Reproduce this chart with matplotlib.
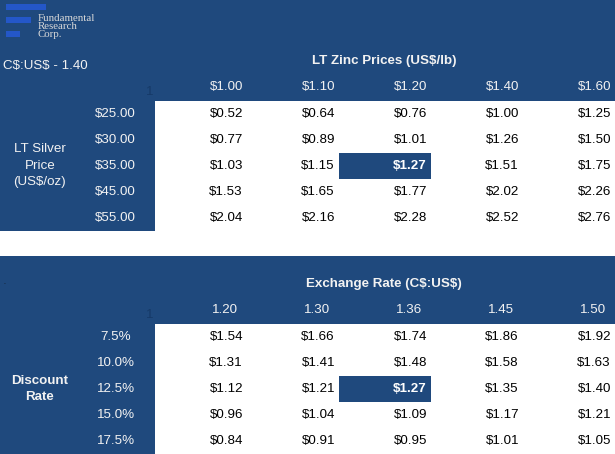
import matplotlib
matplotlib.use("Agg")
import matplotlib.pyplot as plt
from matplotlib.patches import Rectangle

# sensitivity tables
fx_note = "C$:US$ - 1.40"
zinc_title = "LT Zinc Prices (US$/lb)"
zinc_prices = ["$1.00", "$1.10", "$1.20", "$1.40", "$1.60"]
silver_label = "LT Silver\nPrice\n(US$/oz)"
silver_prices = ["$25.00", "$30.00", "$35.00", "$45.00", "$55.00"]
zinc_silver_vals = [
    [0.52, 0.64, 0.76, 1.00, 1.25],
    [0.77, 0.89, 1.01, 1.26, 1.50],
    [1.03, 1.15, 1.27, 1.51, 1.75],
    [1.53, 1.65, 1.77, 2.02, 2.26],
    [2.04, 2.16, 2.28, 2.52, 2.76],
]
zinc_base = (2, 2)

fx_title = "Exchange Rate (C$:US$)"
fx_rates = ["1.20", "1.30", "1.36", "1.45", "1.50"]
disc_label = "Discount\nRate"
disc_rates = ["7.5%", "10.0%", "12.5%", "15.0%", "17.5%"]
fx_disc_vals = [
    [1.54, 1.66, 1.74, 1.86, 1.92],
    [1.31, 1.41, 1.48, 1.58, 1.63],
    [1.12, 1.21, 1.27, 1.35, 1.40],
    [0.96, 1.04, 1.09, 1.17, 1.21],
    [0.84, 0.91, 0.95, 1.01, 1.05],
]
fx_base = (2, 2)

navy = "#1f497d"
light = "#f2f2f2"
W, H = 615, 454
FS = 9.6

plt.rcParams['font.family'] = ['Liberation Sans', 'DejaVu Sans']
plt.rcParams['text.parse_math'] = False
fig = plt.figure(figsize=(W / 100, H / 100), dpi=100)
ax = fig.add_axes([0, 0, 1, 1])
ax.set_xlim(0, W)
ax.set_ylim(H, 0)
ax.axis('off')

col_x0 = 155
col_w = 92
row_h = 26


def draw_table(top, head_h, title, col_labels, col_pad, row_labels, row_ha,
               side_label, side_bold, vals, base, fmt):
    data_top = top + head_h
    n_rows = len(row_labels)
    bottom = data_top + n_rows * row_h
    # header band and left band
    ax.add_patch(Rectangle((0, top), W, head_h, color=navy, lw=0))
    ax.add_patch(Rectangle((0, data_top), col_x0, bottom - data_top, color=navy, lw=0))
    ax.text(384, top + head_h - 40, title, color=light, fontsize=FS,
            fontweight='bold', ha='center', va='center')
    ax.text(150, top + head_h - 9, "1", color="#163a68", fontsize=FS,
            ha='center', va='center')
    for j, lab in enumerate(col_labels):
        ax.text(col_x0 + (j + 1) * col_w - col_pad, top + head_h - 14, lab,
                color=light, fontsize=FS, ha='right', va='center')
    for i, lab in enumerate(row_labels):
        yc = data_top + (i + 0.5) * row_h
        if row_ha == 'right':
            ax.text(136, yc, lab, color=light, fontsize=FS, ha='right', va='center')
        else:
            ax.text(116, yc, lab, color=light, fontsize=FS, ha='center', va='center')
        for j, v in enumerate(vals[i]):
            hi = (i, j) == base
            if hi:
                ax.add_patch(Rectangle((col_x0 + j * col_w, data_top + i * row_h),
                                       col_w, row_h, color=navy, lw=0))
            ax.text(col_x0 + (j + 1) * col_w - 4, yc, fmt.format(v),
                    color='white' if hi else 'black', fontsize=FS,
                    fontweight='bold' if hi else 'normal', ha='right', va='center')
    ax.text(40, (data_top + bottom) / 2, side_label, color=light, fontsize=FS,
            fontweight='bold' if side_bold else 'normal', ha='center',
            va='center', linespacing=1.5)


# top table
draw_table(0, 101, zinc_title, zinc_prices, 4, silver_prices, 'right',
           silver_label, False, zinc_silver_vals, zinc_base, "${:.2f}")
# bottom table
draw_table(256, 68, fx_title, fx_rates, 9, disc_rates, 'center',
           disc_label, True, fx_disc_vals, fx_base, "${:.2f}")

# logo
for yb, wb in [(4, 40), (17, 25), (31, 14)]:
    ax.add_patch(Rectangle((6, yb), wb, 6, color="#2457c8", lw=0))
for yt, t in [(18.5, "Fundamental"), (26.5, "Research"), (34.5, "Corp.")]:
    ax.text(38, yt, t, color="#d9d9d9", fontsize=7.8, family='Liberation Serif',
            ha='left', va='center')

ax.text(3, 66, fx_note, color=light, fontsize=FS, ha='left', va='center')
ax.text(3, 282, ".", color="#111111", fontsize=5, ha='left', va='center')

fig.savefig("out.png", dpi=100)
